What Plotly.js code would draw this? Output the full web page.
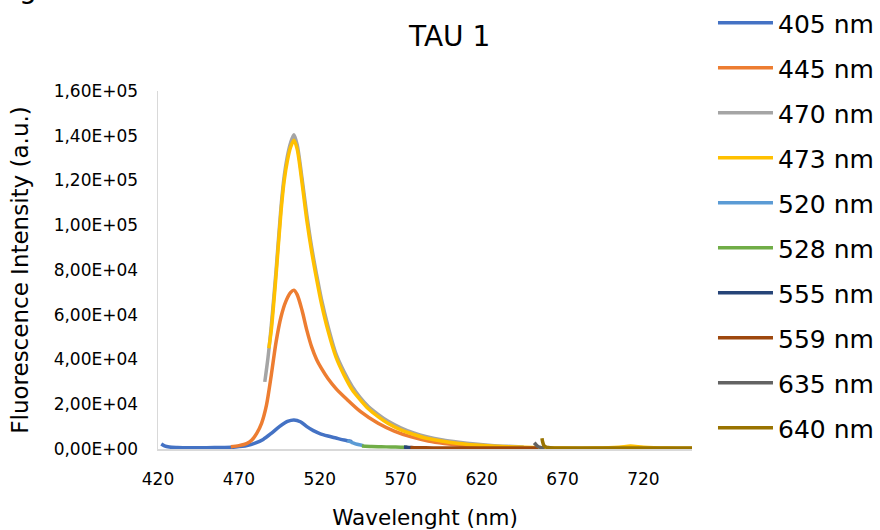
<!DOCTYPE html>
<html>
<head>
<meta charset="utf-8">
<script src="https://cdn.plot.ly/plotly-3.0.1.min.js"></script>
<style>html,body{margin:0;padding:0;background:#fff;}#chart{width:880px;height:530px;}</style>
</head>
<body>
<div id="chart"></div>
<script>
// ---- data ----
const seriesNames = ["405 nm","445 nm","470 nm","473 nm","520 nm","528 nm","555 nm","559 nm","635 nm","640 nm"];
const seriesColors = ["#4472C4","#ED7D31","#A5A5A5","#FFC000","#5B9BD5","#70AD47","#264478","#9E480E","#636363","#997300"];

const x405 = [422,424,427,432,440,450,460,468,475,480,485,490,495,500,504,508,512,516,520,525,530,535,540];
const y405 = [2200,1400,900,700,600,600,700,900,1500,2600,4300,7000,10000,12300,13000,12200,10000,8200,6900,5800,4900,4000,3300];

const x445 = [465,470,475,478,481,484,487,490,493,496,499,502,504,506,509,512,515,518,521,525,530,537,545,556,566,576,587,597,610,625];
const y445 = [1000,1500,2500,4000,7000,11500,19500,33000,48000,59000,66000,70000,71000,69000,62000,53000,45500,40000,36000,31500,27000,22000,16800,11500,8000,5500,3600,2500,1500,1000];

const x470 = [486,488,490,493,496,498,500,502,504,506,509,512,515,518,521,525,530,535,540,545,550,556,562,570,578,586,596,606,616,626,636,646];
const y470 = [30000,41000,55000,80000,108000,122000,131000,137000,140500,136000,121000,104500,90000,78000,67000,55000,42500,34500,28000,23000,19000,15500,12500,9500,7200,5500,4000,3000,2200,1600,1200,900];

const x473 = [488.5,490,493,496,498,500,502,504,506,509,512,515,518,521,525,530,535,540,545,550,556,562,570,578,586,596,606,616,626,636,646,656,670,690,705,712,720,735,750];
const y473 = [45000,53000,78000,106000,120000,129000,135000,138000,134000,119000,102000,88000,76000,65000,53000,41000,33000,26500,22000,18000,14500,11500,8500,6500,4800,3500,2500,1800,1300,1000,800,600,400,400,800,1300,800,400,300];

const x520 = [537,540,543,547];
const y520 = [3800,2900,2100,1500];

const x528 = [546,552,558,564,570,574];
const y528 = [1300,1100,1000,900,800,800];

const x555 = [572,575,578];
const y555 = [900,700,600];

const x559 = [576,580,590,600,610,620,630,640,650,655];
const y559 = [700,600,500,450,400,400,400,400,400,400];

const x635 = [652.5,653.5,655,657,659];
const y635 = [2800,2000,1000,600,500];

const x640 = [657.3,657.6,658.5,660,662,665,680,700,720,740,750];
const y640 = [4800,3500,1500,800,600,500,500,500,500,500,500];

const yTickVals = [0,20000,40000,60000,80000,100000,120000,140000,160000];
const yTickText = ["0,00E+00","2,00E+04","4,00E+04","6,00E+04","8,00E+04","1,00E+05","1,20E+05","1,40E+05","1,60E+05"];
const xTickVals = [420,470,520,570,620,670,720];
const xTickText = ["420","470","520","570","620","670","720"];

const titleText = "TAU 1";
const xTitle = "Wavelenght (nm)";
const yTitle = "Fluorescence Intensity (a.u.)";

// ---- build traces ----
const xs = [x405,x445,x470,x473,x520,x528,x555,x559,x635,x640];
const ys = [y405,y445,y470,y473,y520,y528,y555,y559,y635,y640];
const traces = seriesNames.map((n,i)=>({
  type:"scatter", mode:"lines", name:n, x:xs[i], y:ys[i],
  line:{color:seriesColors[i], width:3.5, shape:"spline", smoothing:0.8},
  legendgroup:"g"+i, hoverinfo:"skip"
}));

const FONT = "DejaVu Sans, sans-serif";
const layout = {
  width:880, height:530,
  margin:{l:158, r:188, t:91, b:81, pad:0, autoexpand:false},
  paper_bgcolor:"#fff", plot_bgcolor:"#fff",
  font:{family:FONT, color:"#000"},
  title:{text:titleText, font:{family:FONT, size:28, color:"#000"}, xref:"container", x:0.511, xanchor:"center", yref:"container", y:0.932, yanchor:"middle"},
  xaxis:{range:[420,750], tickvals:xTickVals, ticktext:xTickText, showgrid:false, zeroline:false, automargin:false,
         showline:true, linecolor:"#D9D9D9", linewidth:1.5, ticks:"outside", ticklen:14, tickcolor:"rgba(0,0,0,0)",
         tickfont:{family:FONT, size:17, color:"#000"},
         title:{text:xTitle, font:{family:FONT, size:21.5, color:"#000"}, standoff:22}},
  yaxis:{range:[0,160000], tickvals:yTickVals, ticktext:yTickText, showgrid:false, zeroline:false, automargin:false,
         showline:true, linecolor:"#D9D9D9", linewidth:1.5, ticks:"outside", ticklen:15, tickcolor:"rgba(0,0,0,0)",
         tickfont:{family:FONT, size:17, color:"#000"},
         title:{text:yTitle, font:{family:FONT, size:23, color:"#000"}, standoff:18}},
  legend:{x:1.0393, xref:"paper", xanchor:"left", y:1.02, yref:"container", yanchor:"top", font:{family:FONT, size:25, color:"#000"},
          tracegroupgap:9.5, bgcolor:"rgba(0,0,0,0)", itemwidth:55, maxheight:1},
  showlegend:true,
  annotations:[{text:"g", xref:"paper", yref:"paper", x:-0.243, y:1.236, xanchor:"center", yanchor:"bottom",
                showarrow:false, font:{family:FONT, size:28, color:"#000"}}]
};

Plotly.newPlot("chart", traces, layout, {displayModeBar:false, staticPlot:true});
</script>
</body>
</html>
